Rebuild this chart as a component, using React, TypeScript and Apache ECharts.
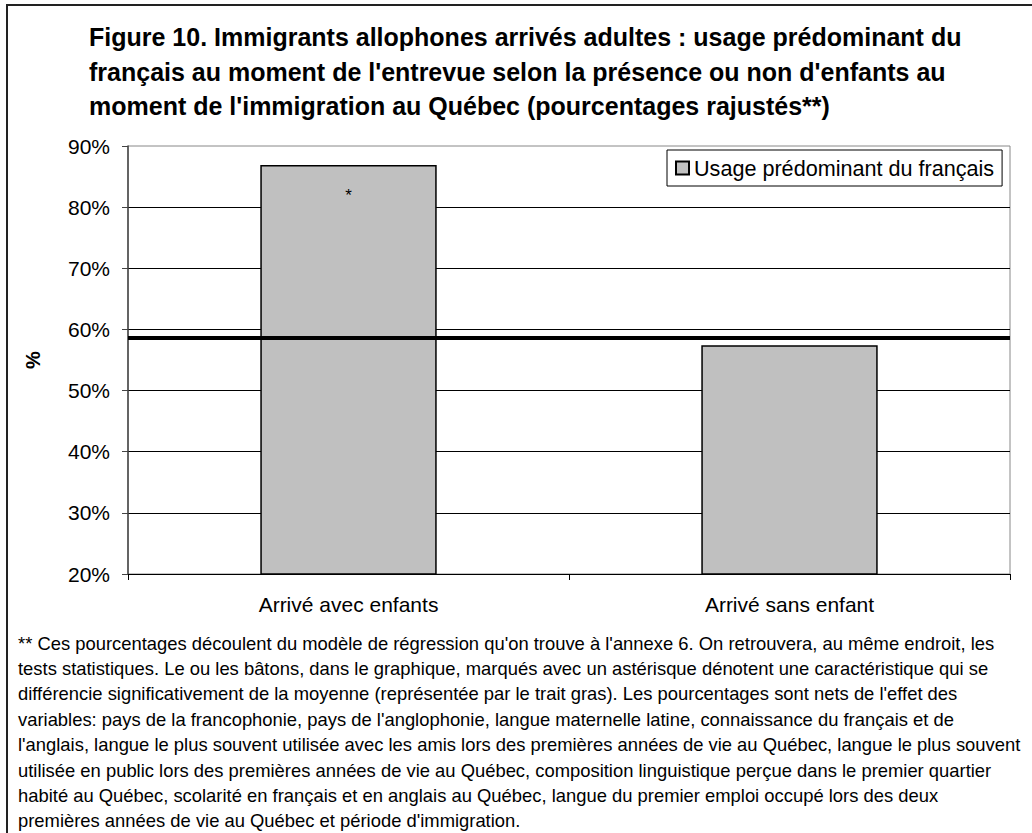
import React, { useEffect, useRef } from "react";
import * as echarts from "echarts";

const FONT = "'Liberation Sans', Arial, sans-serif";

const titleLines = [
  "Figure 10. Immigrants allophones arrivés adultes : usage prédominant du",
  "français au moment de l'entrevue selon la présence ou non d'enfants au",
  "moment de l'immigration au Québec (pourcentages rajustés**)",
];

const categories = ["Arrivé avec enfants", "Arrivé sans enfant"];
const frenchUsage = [86.9, 57.4];
const significant = [true, false];
const meanValue = 58.7;
const seriesName = "Usage prédominant du français";

const yMin = 20;
const yMax = 90;
const yStep = 10;

const noteLines = [
  "** Ces pourcentages découlent du modèle de régression qu'on trouve à l'annexe 6. On retrouvera, au même endroit, les",
  "tests statistiques. Le ou les bâtons, dans le graphique, marqués avec un astérisque dénotent une caractéristique qui se",
  "différencie significativement de la moyenne (représentée par le trait gras). Les pourcentages sont nets de l'effet des",
  "variables: pays de la francophonie, pays de l'anglophonie, langue maternelle latine, connaissance du français et de",
  "l'anglais, langue le plus souvent utilisée avec les amis lors des premières années de vie au Québec, langue le plus souvent",
  "utilisée en public lors des premières années de vie au Québec, composition linguistique perçue dans le premier quartier",
  "habité au Québec, scolarité en français et en anglais au Québec, langue du premier emploi occupé lors des deux",
  "premières années de vie au Québec et période d'immigration.",
];

export default function App() {
  const ref = useRef<HTMLDivElement>(null);

  useEffect(() => {
    if (!ref.current) return;
    const chart = echarts.init(ref.current, null, { renderer: "svg" });

    const graphics: any[] = [
      {
        type: "rect",
        shape: { x: 7, y: 5, width: 1040, height: 840 },
        style: { fill: "none", stroke: "#222", lineWidth: 2 },
        silent: true,
      },
    ];
    titleLines.forEach((t, i) => {
      graphics.push({
        type: "text",
        x: 89,
        y: 37 + i * 34.5,
        style: {
          text: t,
          font: `bold 25px ${FONT}`,
          fill: "#000",
          textVerticalAlign: "middle",
        },
      });
    });
    noteLines.forEach((t, i) => {
      graphics.push({
        type: "text",
        x: 18,
        y: 643 + i * 25.4,
        style: {
          text: t,
          font: `18.4px ${FONT}`,
          fill: "#000",
          textVerticalAlign: "middle",
        },
      });
    });

    chart.setOption({
      animation: false,
      backgroundColor: "#fff",
      textStyle: { fontFamily: FONT },
      grid: {
        left: 128,
        top: 146,
        width: 882,
        height: 428,
        show: true,
        borderColor: "#888",
        borderWidth: 1,
        containLabel: false,
      },
      legend: {
        show: true,
        left: 667,
        top: 150,
        padding: [7, 8, 7, 8],
        borderColor: "#000",
        borderWidth: 1,
        backgroundColor: "#fff",
        itemWidth: 13,
        itemHeight: 13,
        textStyle: { fontSize: 21.6, color: "#000", fontFamily: FONT },
        data: [{ name: seriesName, icon: "rect" }],
      },
      xAxis: {
        type: "category",
        data: categories,
        boundaryGap: true,
        axisLine: { lineStyle: { color: "#000", width: 1 } },
        axisTick: { show: true, length: 6, lineStyle: { color: "#000" } },
        axisLabel: { fontSize: 21, color: "#000", margin: 20, fontFamily: FONT },
        splitLine: { show: false },
      },
      yAxis: {
        type: "value",
        min: yMin,
        max: yMax,
        interval: yStep,
        name: "%",
        nameLocation: "middle",
        nameRotate: 90,
        nameGap: 85,
        nameTextStyle: { fontSize: 20, fontWeight: "bold", color: "#000", fontFamily: FONT },
        axisLine: { show: true, lineStyle: { color: "#444", width: 1.5 } },
        axisTick: { show: true, length: 6, lineStyle: { color: "#444" } },
        axisLabel: {
          formatter: "{value}%",
          fontSize: 21,
          color: "#000",
          margin: 18,
          fontFamily: FONT,
        },
        splitLine: {
          show: true,
          showMinLine: false,
          showMaxLine: false,
          lineStyle: { color: "#000", width: 1 },
        },
      },
      series: [
        {
          name: seriesName,
          type: "bar",
          data: frenchUsage.map((v, i) => ({
            value: v,
            label: {
              show: significant[i],
              formatter: "*",
              position: "insideTop",
              distance: 22,
              fontSize: 17,
              color: "#000",
              fontFamily: FONT,
            },
          })),
          barWidth: "40%",
          itemStyle: { color: "#c0c0c0", borderColor: "#000", borderWidth: 1.5 },
          markLine: {
            silent: true,
            symbol: "none",
            label: { show: false },
            lineStyle: { color: "#000", width: 4, type: "solid" },
            data: [{ yAxis: meanValue }],
          },
        },
      ],
      graphic: graphics,
    });

    return () => chart.dispose();
  }, []);

  return (
    <div
      ref={ref}
      style={{ position: "absolute", left: 0, top: 0, width: 1032, height: 833 }}
    />
  );
}
